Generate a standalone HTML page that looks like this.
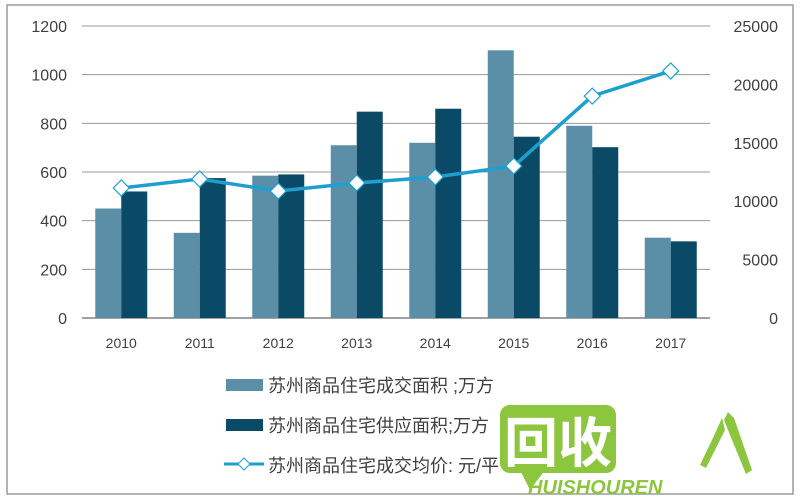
<!DOCTYPE html>
<html><head><meta charset="utf-8"><style>
body{margin:0;background:#fff;}
svg{display:block;font-family:"Liberation Sans","Noto Sans CJK SC",sans-serif;}
</style></head><body>
<svg width="800" height="500" xmlns="http://www.w3.org/2000/svg">
<rect x="7" y="5" width="786" height="489" fill="#fff" stroke="#9a9a9a" stroke-width="1.5"/>
<g id="grid"></g><g id="bars"></g><g id="line"></g><g id="axes"></g>
<g>
<rect x="226" y="379" width="37" height="12" fill="#5b8fa8"/>
<text x="268" y="392" font-size="18" fill="#404040">苏州商品住宅成交面积 ;万方</text>
<rect x="226" y="419" width="37" height="12" fill="#0a4a66"/>
<text x="268" y="432" font-size="18" fill="#404040">苏州商品住宅供应面积;万方</text>
<line x1="224" y1="464" x2="264" y2="464" stroke="#1d9fd0" stroke-width="3"/>
<path d="M244 458 L250 464 L244 470 L238 464 Z" fill="#fff" stroke="#1d9fd0"/>
<text x="268" y="472" font-size="18" fill="#404040">苏州商品住宅成交均价: 元/平</text>
</g>
<g>
<rect x="500" y="405" width="116" height="68" rx="10" fill="#8cc63e"/>
<path d="M520 470 L530 490 L545 470 Z" fill="#8cc63e"/>
<text x="558" y="462" font-size="54" font-weight="bold" fill="#fff" text-anchor="middle" font-family="Noto Sans CJK SC,sans-serif">回收</text>
<path d="M722 418 L712 440 L700 465 L706 468 L716 448 L725 430 Z" fill="#8cc63e"/>
<path d="M728 412 L734 418 L752 470 L746 474 L730 435 L724 420 Z" fill="#8cc63e"/>
<text x="528" y="494" font-size="20" font-weight="bold" font-style="italic" fill="#8cc63e">HUISHOUREN</text>
</g>
</svg>
<script>
const categories=["2010","2011","2012","2013","2014","2015","2016","2017"];
const dealArea=[450,350,585,710,720,1100,790,330];
const supplyArea=[520,575,590,848,860,745,702,315];
const avgPrice=[11130,11900,10870,11560,12070,13010,19000,21150];
const leftTicks=[0,200,400,600,800,1000,1200];
const rightTicks=[0,5000,10000,15000,20000,25000];
const NS="http://www.w3.org/2000/svg";
const x0=82,x1=710,yB=318,yT=26;
const step=(x1-x0)/categories.length;
const yL=v=>yB-(v/1200)*(yB-yT);
const yR=v=>yB-(v/25000)*(yB-yT);
const xc=i=>x0+step*(i+0.5);
function mk(tag,attrs,parent){const e=document.createElementNS(NS,tag);for(const k in attrs)e.setAttribute(k,attrs[k]);document.getElementById(parent).appendChild(e);return e;}
leftTicks.forEach(t=>{
 const l=mk('line',{x1:x0,x2:x1,y1:yL(t),y2:yL(t),stroke:t===0?'#404040':'#9a9a9a','stroke-width':1},'grid');
 
 
 const tx=mk('text',{x:67,y:yL(t)+6,'font-size':16,fill:'#404040','text-anchor':'end'},'axes');
 tx.textContent=t;
 
 
});
rightTicks.forEach(t=>{
 const tx=mk('text',{x:778,y:yR(t)+6,'font-size':16,fill:'#404040','text-anchor':'end'},'axes');
 tx.textContent=t;
 
 
});
categories.forEach((c,i)=>{
 const bw=26;
 const b1=mk('rect',{x:xc(i)-bw,y:yL(dealArea[i]),width:bw,height:yB-yL(dealArea[i]),fill:'#5b8fa8'},'bars');
 
 
 const b2=mk('rect',{x:xc(i),y:yL(supplyArea[i]),width:bw,height:yB-yL(supplyArea[i]),fill:'#0a4a66'},'bars');
 
 
 const tx=mk('text',{x:xc(i),y:348,'font-size':14,fill:'#404040','text-anchor':'middle'},'axes');
 tx.textContent=c;
 
 
});
const pts=avgPrice.map((v,i)=>xc(i)+','+yR(v)).join(' ');
const pl=mk('polyline',{points:pts,fill:'none',stroke:'#1d9fd0','stroke-width':3.5},'line');


avgPrice.forEach((v,i)=>{
 const x=xc(i),y=yR(v);
 const m=mk('path',{d:`M${x} ${y-8} L${x+8} ${y} L${x} ${y+8} L${x-8} ${y} Z`,fill:'#fff',stroke:'#1d9fd0','stroke-width':1.2},'line');
 
 
});
</script>
</body></html>
